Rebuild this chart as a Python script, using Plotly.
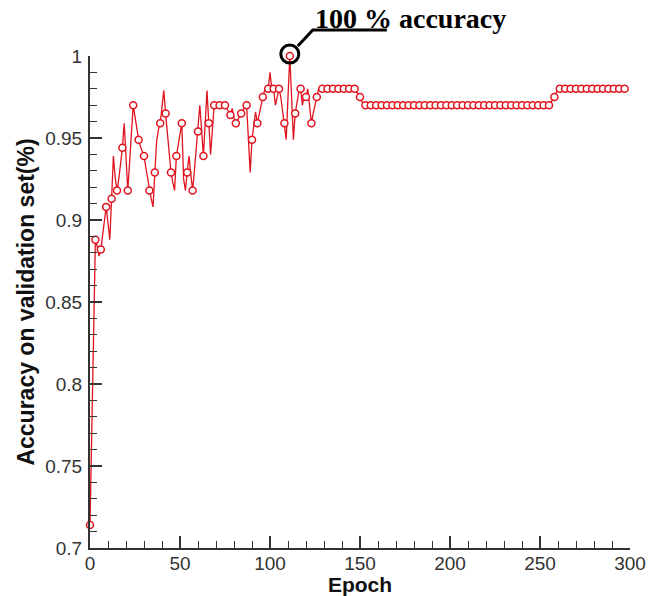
import plotly.graph_objects as go

epochs = list(range(0, 298))
accuracy = [
    0.714, 0.772, 0.830, 0.888, 0.884, 0.878, 0.882, 0.891, 0.900, 0.908,
    0.898, 0.888, 0.913, 0.939, 0.926, 0.918, 0.925, 0.933, 0.944, 0.959,
    0.939, 0.918, 0.935, 0.952, 0.970, 0.963, 0.956, 0.949, 0.945, 0.942,
    0.939, 0.932, 0.925, 0.918, 0.913, 0.908, 0.929, 0.948, 0.955, 0.959,
    0.969, 0.979, 0.965, 0.953, 0.940, 0.929, 0.923, 0.918, 0.939, 0.946,
    0.953, 0.959, 0.925, 0.918, 0.929, 0.939, 0.928, 0.918, 0.930, 0.942,
    0.954, 0.970, 0.955, 0.939, 0.959, 0.979, 0.959, 0.940, 0.955, 0.970,
    0.970, 0.970, 0.970, 0.970, 0.970, 0.970, 0.968, 0.966, 0.964, 0.968,
    0.962, 0.959, 0.961, 0.963, 0.965, 0.967, 0.969, 0.970, 0.950, 0.929,
    0.949, 0.958, 0.966, 0.959, 0.965, 0.970, 0.975, 0.979, 0.980, 0.980,
    0.990, 0.980, 0.980, 0.970, 0.975, 0.980, 0.975, 0.967, 0.959, 0.949,
    0.975, 1.000, 0.975, 0.949, 0.965, 0.973, 0.978, 0.980, 0.970, 0.976,
    0.975, 0.980, 0.970, 0.959, 0.965, 0.970, 0.975, 0.980, 0.980, 0.980,
    0.980, 0.980, 0.980, 0.980, 0.980, 0.980, 0.980, 0.980, 0.980, 0.980,
    0.980, 0.980, 0.980, 0.980, 0.980, 0.980, 0.980, 0.980, 0.978, 0.977,
    0.975, 0.972, 0.970, 0.970, 0.970, 0.970, 0.970, 0.970, 0.970, 0.970,
    0.970, 0.970, 0.970, 0.970, 0.970, 0.970, 0.970, 0.970, 0.970, 0.970,
    0.970, 0.970, 0.970, 0.970, 0.970, 0.970, 0.970, 0.970, 0.970, 0.970,
    0.970, 0.970, 0.970, 0.970, 0.970, 0.970, 0.970, 0.970, 0.970, 0.970,
    0.970, 0.970, 0.970, 0.970, 0.970, 0.970, 0.970, 0.970, 0.970, 0.970,
    0.970, 0.970, 0.970, 0.970, 0.970, 0.970, 0.970, 0.970, 0.970, 0.970,
    0.970, 0.970, 0.970, 0.970, 0.970, 0.970, 0.970, 0.970, 0.970, 0.970,
    0.970, 0.970, 0.970, 0.970, 0.970, 0.970, 0.970, 0.970, 0.970, 0.970,
    0.970, 0.970, 0.970, 0.970, 0.970, 0.970, 0.970, 0.970, 0.970, 0.970,
    0.970, 0.970, 0.970, 0.970, 0.970, 0.970, 0.970, 0.970, 0.970, 0.970,
    0.970, 0.970, 0.970, 0.970, 0.970, 0.970, 0.972, 0.973, 0.975, 0.978,
    0.980, 0.980, 0.980, 0.980, 0.980, 0.980, 0.980, 0.980, 0.980, 0.980,
    0.980, 0.980, 0.980, 0.980, 0.980, 0.980, 0.980, 0.980, 0.980, 0.980,
    0.980, 0.980, 0.980, 0.980, 0.980, 0.980, 0.980, 0.980, 0.980, 0.980,
    0.980, 0.980, 0.980, 0.980, 0.980, 0.980, 0.980, 0.980,
]
marker_step = 3
peak_epoch = 111
peak_value = 1.0
annotation_text = "100 % accuracy"
x_title = "Epoch"
y_title = "Accuracy on validation set(%)"
x_range = [0, 300]
y_range = [0.7, 1.0]

RED = "#e0141e"
AX = "#333333"

fig = go.Figure()
fig.add_trace(go.Scatter(
    x=epochs, y=accuracy, mode="lines",
    line=dict(color=RED, width=1.3), cliponaxis=False, showlegend=False,
))
fig.add_trace(go.Scatter(
    x=epochs[::marker_step], y=accuracy[::marker_step], mode="markers",
    marker=dict(symbol="circle", size=7, color="white",
                line=dict(color=RED, width=1.5)),
    cliponaxis=False, showlegend=False,
))

# peak position in paper fraction (so the callout is not clipped)
px = (peak_epoch - x_range[0]) / (x_range[1] - x_range[0])
py = (peak_value - y_range[0]) / (y_range[1] - y_range[0])

fig.add_shape(type="circle", xref="paper", yref="paper",
              xsizemode="pixel", ysizemode="pixel",
              xanchor=px, yanchor=py,
              x0=-9, x1=9, y0=-7, y1=11,
              line=dict(color="black", width=3))
fig.add_shape(type="path", xref="paper", yref="paper",
              xsizemode="pixel", ysizemode="pixel",
              xanchor=px, yanchor=py,
              path="M 8 10 L 23 26 L 97 26",
              line=dict(color="black", width=3))
fig.add_annotation(x=px, y=py, xref="paper", yref="paper",
                   text=f"<b>{annotation_text}</b>", showarrow=False,
                   xanchor="left", yanchor="middle", xshift=23, yshift=38,
                   font=dict(family="Liberation Serif", size=28, color="black"))

fig.update_layout(
    width=657, height=596,
    margin=dict(l=90, r=27, t=56, b=48, autoexpand=False),
    plot_bgcolor="white", paper_bgcolor="white",
    font=dict(family="Liberation Sans", color=AX),
)
fig.update_xaxes(
    range=x_range, tickmode="array", tickvals=[0, 50, 100, 150, 200, 250, 300],
    ticks="inside", ticklen=12, tickwidth=2, tickcolor=AX,
    minor=dict(ticks="inside", ticklen=7, tickwidth=1.2, tickcolor=AX, dtick=10),
    showline=True, linecolor=AX, linewidth=2, showgrid=False, zeroline=False,
    tickfont=dict(size=19, color=AX), automargin=False, ticklabelstandoff=-3,
    title=dict(text=f"<b>{x_title}</b>", font=dict(size=21, color="#111"), standoff=2),
)
fig.update_yaxes(
    range=y_range, tickmode="array",
    tickvals=[0.7, 0.75, 0.8, 0.85, 0.9, 0.95, 1.0],
    ticktext=["0.7", "0.75", "0.8", "0.85", "0.9", "0.95", "1"],
    ticks="inside", ticklen=12, tickwidth=2, tickcolor=AX,
    minor=dict(ticks="inside", ticklen=7, tickwidth=1.2, tickcolor=AX, dtick=0.01),
    showline=True, linecolor=AX, linewidth=2, showgrid=False, zeroline=False,
    tickfont=dict(size=19, color=AX), ticklabelstandoff=2, automargin=False,
    title=dict(text=f"<b>{y_title}</b>", font=dict(size=23, color="#111"), standoff=4),
)

fig.write_html("out.html", config={"displayModeBar": False},
               post_script="document.body.style.margin='0px';document.body.style.overflow='hidden';")
